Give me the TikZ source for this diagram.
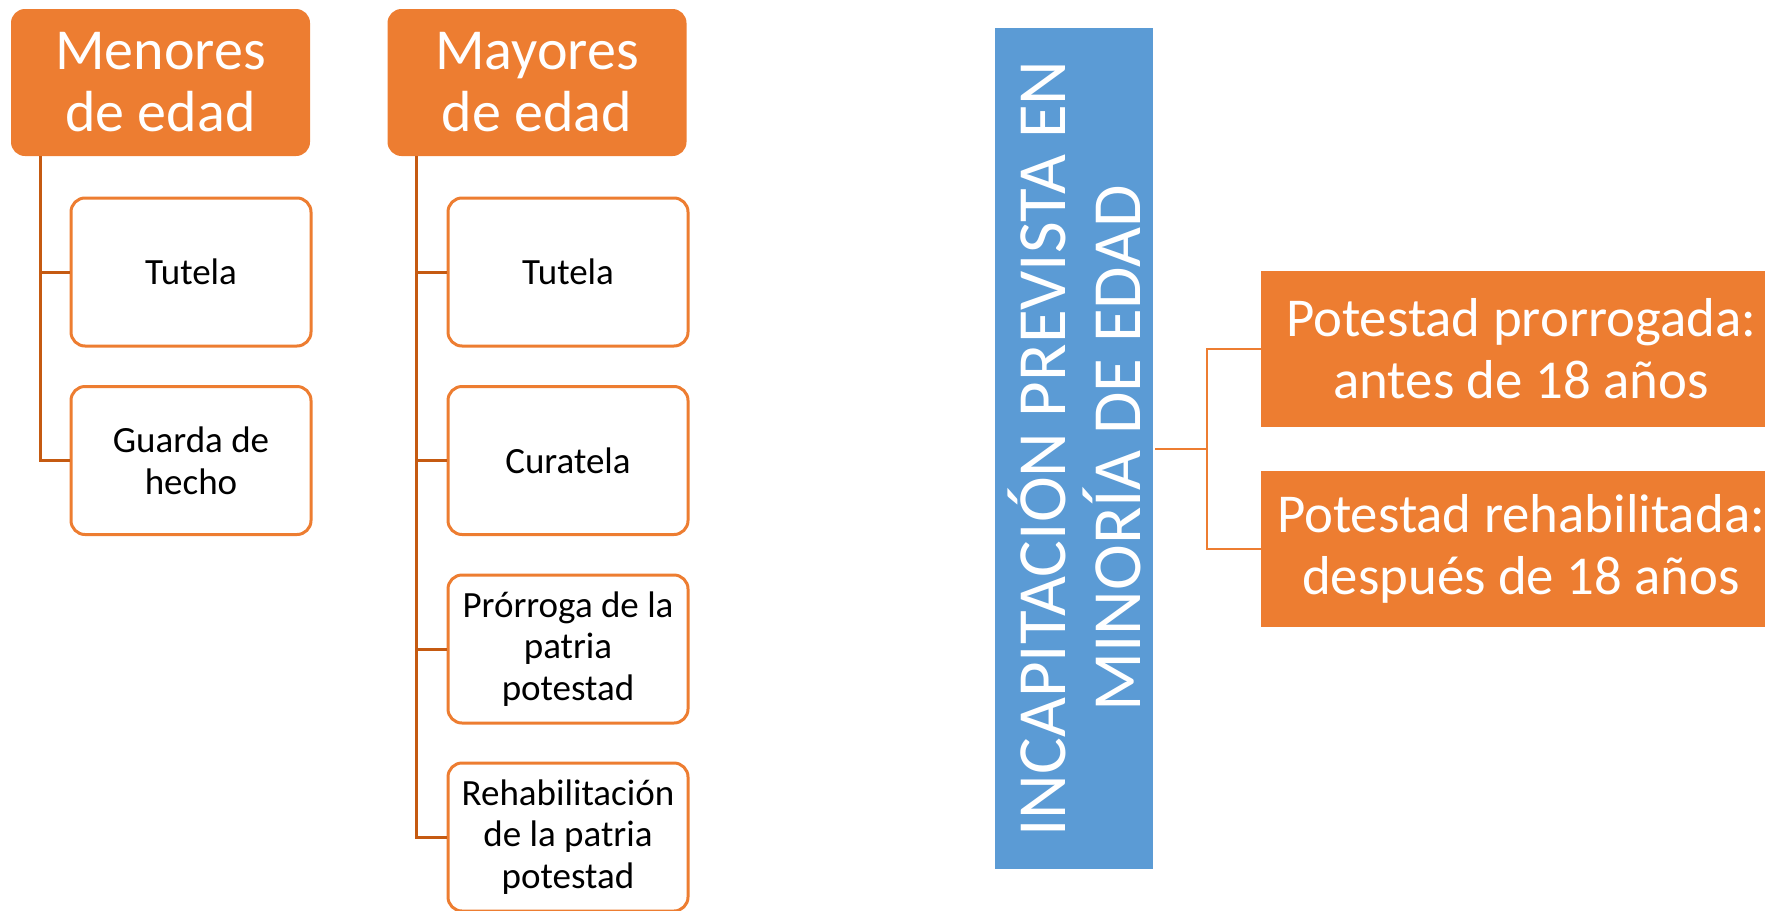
\documentclass[tikz,border=0pt]{standalone}
\usepackage{fontspec}
\setmainfont{Carlito}
\usepackage{tikz}
\definecolor{acorange}{HTML}{ED7D31}
\definecolor{acblue}{HTML}{5B9BD5}
\definecolor{acdark}{HTML}{C55A11}
\tikzset{
	head/.style={fill=acorange, draw=none, rounded corners=7pt, text=white, align=center, minimum width=149.5pt, minimum height=73.5pt, font=\fontsize{29}{31}\selectfont},
	leaf/.style={fill=white, draw=acorange, line width=1.5pt, rounded corners=7pt, text=black, align=center, minimum width=120pt, minimum height=74pt, font=\fontsize{18.5}{20.8}\selectfont},
	potbox/.style={fill=acorange, draw=none, text=white, align=center, minimum width=260pt, minimum height=78pt, font=\fontsize{27.4}{31}\selectfont},
	linkL/.style={draw=acdark, line width=1.5pt},
	linkR/.style={draw=acorange, line width=1pt}
}

\begin{document}
\begin{tikzpicture}[x=0.5pt, y=-0.5pt]
			\useasboundingbox (0,0) rectangle (1765,910);
			\clip (0,0) rectangle (1765,910);
			\node[head] (menores) at (160.5,82.5) {Menores\\de edad};
			\node[head] (mayores) at (537,82.5) {Mayores\\de edad};
			\node[leaf] (mtutela) at (191,272) {Tutela};
			\node[leaf] (mguarda) at (191,460.5) {Guarda de\\hecho};
			\node[leaf] (ytutela) at (568,272) {Tutela};
			\node[leaf] (ycuratela) at (568,460.5) {Curatela};
			\node[leaf] (yprorroga) at (568,649) {Prórroga de la\\patria\\potestad};
			\node[leaf] (yrehab) at (568,837) {Rehabilitación\\de la patria\\potestad};
			\coordinate (mtrunk) at (40,156);
			\coordinate (ytrunk) at (416,156);
			\draw[linkL] (mtrunk) |- (mguarda.west);
			\draw[linkL] (mtrunk |- mtutela.west) -- (mtutela.west);
			\draw[linkL] (ytrunk) |- (yrehab.west);
			\draw[linkL] (ytrunk |- ytutela.west) -- (ytutela.west);
			\draw[linkL] (ytrunk |- ycuratela.west) -- (ycuratela.west);
			\draw[linkL] (ytrunk |- yprorroga.west) -- (yprorroga.west);
			\node[fill=acblue, text=white, minimum width=420.5pt, minimum height=79pt, align=center, rotate=90, font=\fontsize{34.5}{37.5}\selectfont] (incap) at (1074,448.5) {INCAPITACIÓN PREVISTA EN\\MINORÍA DE EDAD};
			\node[potbox] (prorrogada) at (1521,348.5) {Potestad prorrogada:\\antes de 18 años};
			\node[potbox] (rehabilitada) at (1521,549) {Potestad rehabilitada:\\después de 18 años};
			\coordinate (fork) at (1207,448.5);
			\draw[linkR] (1155,448.5) -- (fork);
			\draw[linkR] (prorrogada.west) -| (fork) |- (rehabilitada.west);
		\end{tikzpicture}
\end{document}
